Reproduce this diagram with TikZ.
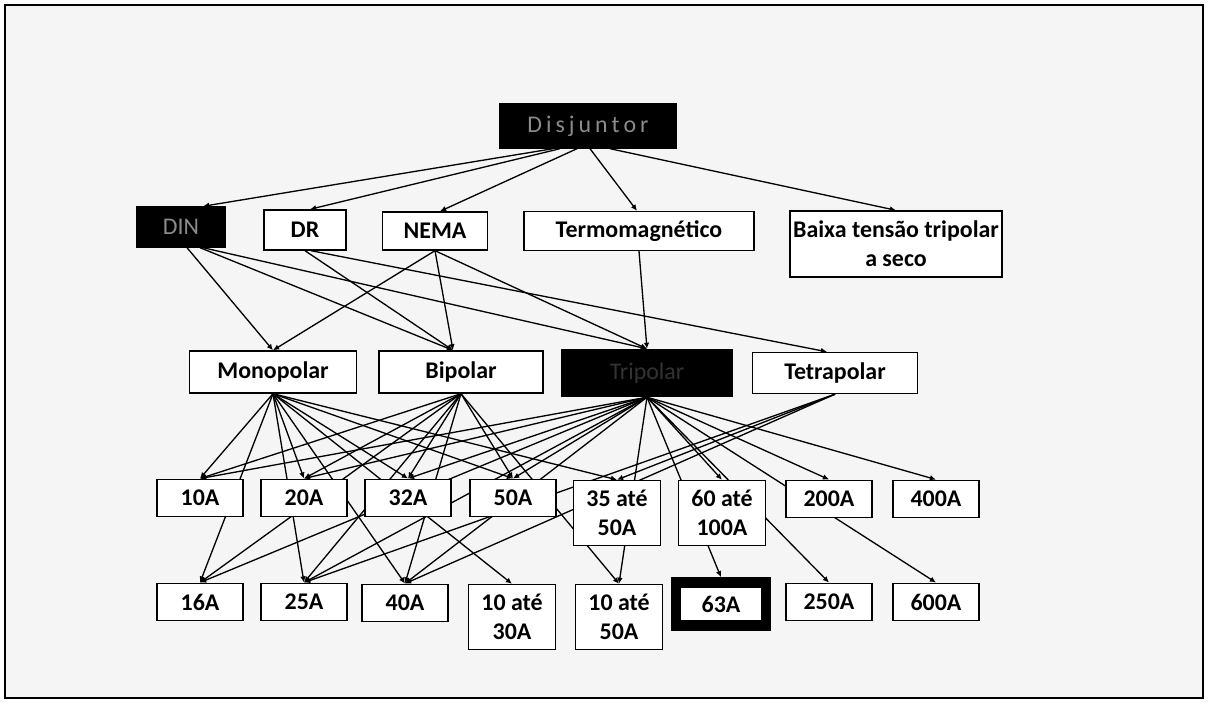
\documentclass[tikz,border=0pt]{standalone}
\usepackage{fontspec}
\setmainfont{Carlito}
\usetikzlibrary{arrows.meta,calc}
\pgfdeclarelayer{back}
\pgfdeclarelayer{edges}
\pgfsetlayers{back,edges,main}

\begin{document}
\begin{tikzpicture}[x=0.02cm, y=-0.02cm,
    every node/.style={draw, fill=white, line width=0.8pt, inner sep=0pt, align=center,
      font=\fontsize{13.6}{16.5}\selectfont\bfseries},
    blk/.style={fill=black, text=black!45, font=\fontsize{13.6}{16.5}\selectfont},
    small/.style={minimum width=1.72cm, minimum height=0.75cm},
    tall/.style={minimum width=1.74cm, minimum height=1.30cm},
    link/.style={line width=0.75pt, -{Latex[length=3.5pt,width=3.2pt]}}]
    \useasboundingbox (0,0) rectangle (1208,705);
    \begin{pgfonlayer}{back}
    \draw[line width=1.3pt, fill=black!4] (5,5) rectangle (1203,698);
    \end{pgfonlayer}

    % top levels
    \node[blk, minimum width=3.52cm, minimum height=0.88cm] (disj) at (588,126) {D\,i\,s\,j\,u\,n\,t\,o\,r};
    \node[blk, minimum width=1.76cm, minimum height=0.80cm] (din) at (181,227) {DIN};
    \node[minimum width=1.64cm, minimum height=0.80cm] (dr) at (305,230) {DR};
    \node[minimum width=2.10cm, minimum height=0.76cm] (nema) at (435,231) {NEMA};
    \node[minimum width=4.60cm, minimum height=0.78cm] (termo) at (639,231) {Termomagnético};
    \node[minimum width=4.24cm, minimum height=1.32cm] (baixa) at (896,244) {Baixa tensão tripolar\\a seco};

    \node[minimum width=3.34cm, minimum height=0.84cm] (mono) at (273,372) {Monopolar};
    \node[minimum width=3.28cm, minimum height=0.84cm] (bi) at (461,372) {Bipolar};
    \node[blk, text=black!80, minimum width=3.42cm, minimum height=0.94cm] (tri) at (647,373) {Tripolar};
    \node[minimum width=3.30cm, minimum height=0.82cm] (tetra) at (835,373) {Tetrapolar};

    % currents
    \node[small] (r10) at (200,498) {10A};
    \node[small] (r20) at (304,498) {20A};
    \node[small] (r32) at (408,498) {32A};
    \node[small] (r50) at (513,498) {50A};
    \node[tall] (r35) at (617,513) {35 até\\50A};
    \node[tall] (r60) at (722,513) {60 até\\100A};
    \node[small] (r200) at (829,499) {200A};
    \node[small] (r400) at (936,499) {400A};

    \node[small] (r16) at (200,602) {16A};
    \node[small] (r25) at (304,602) {25A};
    \node[small] (r40) at (405,603) {40A};
    \node[tall] (r10b) at (512,617) {10 até\\30A};
    \node[tall] (r10c) at (619,617) {10 até\\50A};
    \node[line width=6pt, minimum width=1.80cm, minimum height=0.86cm] (r63) at (721,604) {63A};
    \node[small] (r250) at (829,602) {250A};
    \node[small] (r600) at (936,602) {600A};

    \begin{pgfonlayer}{edges}
    % Disjuntor
    \draw[link] ($(disj.south)+(-35,0)$) -- ($(din.north)+(22,0)$);
    \draw[link] ($(disj.south)+(-28,0)$) -- ($(dr.north)+(5,0)$);
    \draw[link] ($(disj.south)+(-11,0)$) -- ($(nema.north)+(5,0)$);
    \draw[link] ($(disj.south)+(2,0)$) -- ($(termo.north)+(-2,0)$);
    \draw[link] ($(disj.south)+(22,0)$) -- (baixa.north);

    % norms to poles
    \draw[link] ($(din.south)+(6,0)$) -- (mono.north);
    \draw[link] ($(din.south)+(19,0)$) -- ($(bi.north)+(-8,0)$);
    \draw[link] ($(din.south)+(22,0)$) -- (tri.north);
    \draw[link] (dr.south) -- ($(bi.north)+(-8,0)$);
    \draw[link] ($(dr.south)+(6,0)$) -- ($(tetra.north)+(-8,0)$);
    \draw[link] (nema.south) -- (mono.north);
    \draw[link] (nema.south) -- ($(bi.north)+(-8,0)$);
    \draw[link] (nema.south) -- (tri.north);
    \draw[link] (termo.south) -- (tri.north);

    % Monopolar
    \draw[link] (mono.south) -- (r10.north);
    \draw[link] (mono.south) -- (r20.north);
    \draw[link] (mono.south) -- (r32.north);
    \draw[link] (mono.south) -- (r50.north);
    \draw[link] (mono.south) -- (r35.north);
    \draw[link] (mono.south) -- (r16.north);
    \draw[link] (mono.south) -- (r25.north);
    \draw[link] (mono.south) -- (r40.north);
    \draw[link] (mono.south) -- (r10b.north);

    % Bipolar
    \draw[link] (bi.south) -- (r10.north);
    \draw[link] (bi.south) -- (r20.north);
    \draw[link] (bi.south) -- (r32.north);
    \draw[link] (bi.south) -- (r50.north);
    \draw[link] (bi.south) -- (r16.north);
    \draw[link] (bi.south) -- (r25.north);
    \draw[link] (bi.south) -- (r40.north);
    \draw[link] (bi.south) -- (r10c.north);

    % Tripolar
    \draw[link] (tri.south) -- (r10.north);
    \draw[link] (tri.south) -- (r20.north);
    \draw[link] (tri.south) -- (r32.north);
    \draw[link] (tri.south) -- (r50.north);
    \draw[link] (tri.south) -- (r60.north);
    \draw[link] (tri.south) -- (r200.north);
    \draw[link] (tri.south) -- (r400.north);
    \draw[link] (tri.south) -- (r16.north);
    \draw[link] (tri.south) -- (r25.north);
    \draw[link] (tri.south) -- (r40.north);
    \draw[link] (tri.south) -- (r10c.north);
    \draw[link] (tri.south) -- (r63.north);
    \draw[link] (tri.south) -- (r250.north);
    \draw[link] (tri.south) -- (r600.north);

    % Tetrapolar
    \draw[link] (tetra.south) -- (r35.north);
    \draw[link] (tetra.south) -- (r25.north);
    \draw[link] (tetra.south) -- (r40.north);
    \end{pgfonlayer}
\end{tikzpicture}
\end{document}
